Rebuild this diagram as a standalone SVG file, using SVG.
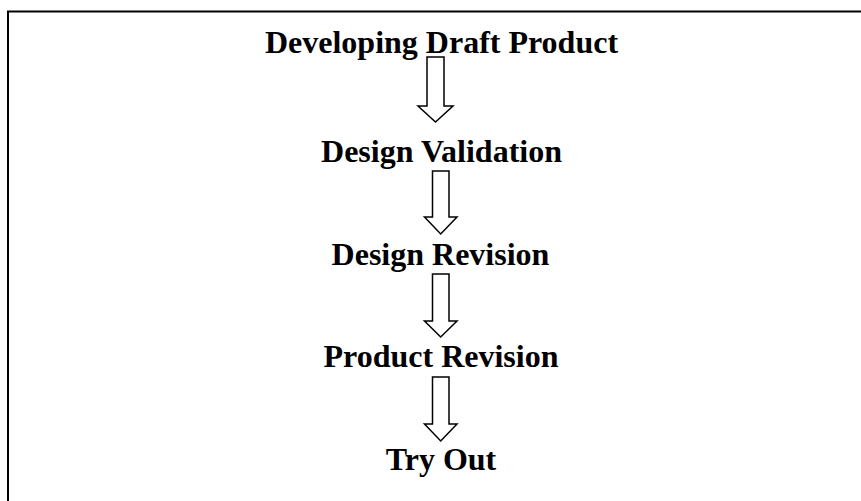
<svg xmlns="http://www.w3.org/2000/svg" width="861" height="501" viewBox="0 0 861 501">
<style>
.t{font-family:"Liberation Serif","Times New Roman",serif;font-weight:bold;font-size:32px;fill:#000;text-anchor:middle}
.a{fill:#fff;stroke:#000;stroke-width:1.5;stroke-linejoin:miter}
.b{stroke:#000;stroke-width:2;fill:none}
</style>
<rect width="861" height="501" fill="#fff"/>
<path class="b" d="M8,501 V11.5 H861"/>
<g id="n1"><text class="t" x="441.5" y="53">Developing Draft Product</text></g>
<g id="n2"><text class="t" x="441.5" y="161.5">Design Validation</text></g>
<g id="n3"><text class="t" x="440.5" y="265">Design Revision</text></g>
<g id="n4"><text class="t" x="441" y="367">Product Revision</text></g>
<g id="n5"><text class="t" x="441" y="470">Try Out</text></g>
<g id="connectors">
<path class="a" d="M427,57 H444 V106 H453 L435.5,122 L418,106 H427 Z"/>
<path class="a" d="M432.5,171 H449 V217 H457 L440.7,234 L424.5,217 H432.5 Z"/>
<path class="a" d="M432.5,274 H449 V321 H457 L440.7,337 L424.5,321 H432.5 Z"/>
<path class="a" d="M432.5,377 H449 V424 H457 L440.7,441 L424.5,424 H432.5 Z"/>
</g>
</svg>
